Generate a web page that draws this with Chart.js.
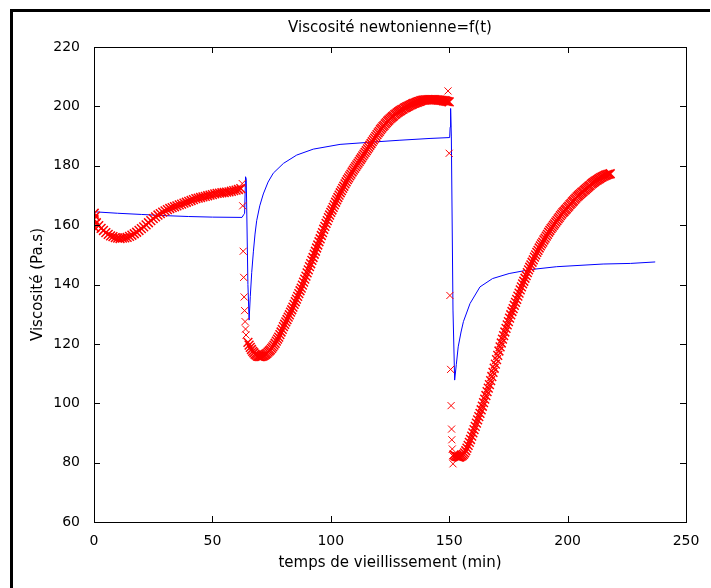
<!DOCTYPE html>
<html>
<head>
<meta charset="utf-8">
<script src="https://cdn.jsdelivr.net/npm/chart.js@4/dist/chart.umd.min.js"></script>
<style>
  html, body { margin: 0; padding: 0; background: #fff; }
  #wrap { width: 711px; height: 588px; position: relative; }
</style>
</head>
<body>
<div id="wrap"><canvas id="graficaVisco"></canvas></div>
<script>
// mesures (croix rouges)
const mesure1Debut = 0, mesure1Pas = 1;
const mesure1 = [162.0, 160.8, 159.8, 158.9, 158.2, 157.5, 156.9, 156.4, 156.1, 155.8,
    155.6, 155.5, 155.6, 155.7, 155.9, 156.2, 156.6, 157.1, 157.6, 158.2,
    158.8, 159.4, 160.1, 160.8, 161.5, 162.2, 162.8, 163.4, 163.9, 164.4,
    164.8, 165.2, 165.6, 165.9, 166.2, 166.5, 166.8, 167.1, 167.4, 167.7,
    168.0, 168.3, 168.6, 168.9, 169.1, 169.3, 169.5, 169.7, 169.9, 170.1,
    170.3, 170.5, 170.7, 170.8, 170.9, 171.0, 171.1, 171.2, 171.4, 171.6,
    171.8, 172.0, 172.3];
const departT = [0.1, 0.3, 0.6];
const departV = [164.0, 159.2, 163.0];
const chute1T = [62.6, 62.8, 63.0, 63.2, 63.4, 63.6, 63.8, 64.0, 64.2];
const chute1V = [174.0, 166.5, 151.2, 142.4, 135.8, 131.2, 127.5, 125.0, 123.0];
const mesure2Debut = 65, mesure2Pas = 0.5;
const mesure2 = [120.5, 119.6, 118.8, 118.1, 117.5, 117.0, 116.5, 116.2, 115.9, 115.8,
    115.7, 115.7, 115.8, 116.0, 116.2, 116.5, 116.8, 117.2, 117.6, 118.0,
    118.5, 119.0, 119.6, 120.2, 120.9, 121.6, 122.3, 123.1, 124.0, 124.9,
    125.8, 126.6, 127.4, 128.2, 129.0, 129.8, 130.7, 131.5, 132.4, 133.3,
    134.2, 135.1, 136.0, 136.9, 137.9, 138.8, 139.8, 140.8, 141.8, 142.8,
    143.9, 144.9, 146.0, 147.0, 148.1, 149.1, 150.2, 151.2, 152.3, 153.3,
    154.4, 155.4, 156.5, 157.5, 158.6, 159.6, 160.6, 161.5, 162.5, 163.4,
    164.3, 165.1, 166.0, 166.8, 167.7, 168.5, 169.3, 170.1, 170.9, 171.6,
    172.4, 173.1, 173.9, 174.6, 175.3, 175.9, 176.6, 177.2, 177.9, 178.5,
    179.1, 179.7, 180.3, 180.9, 181.5, 182.1, 182.7, 183.3, 183.9, 184.5,
    185.1, 185.7, 186.3, 186.9, 187.5, 188.1, 188.7, 189.3, 189.9, 190.5,
    191.1, 191.6, 192.2, 192.7, 193.2, 193.6, 194.1, 194.5, 195.0, 195.4,
    195.8, 196.1, 196.5, 196.8, 197.2, 197.5, 197.8, 198.1, 198.4, 198.6,
    198.9, 199.1, 199.4, 199.6, 199.8, 200.0, 200.2, 200.4, 200.6, 200.8,
    201.0, 201.1, 201.3, 201.4, 201.6, 201.7, 201.9, 202.0, 202.1, 202.1,
    202.2, 202.2, 202.3, 202.3, 202.3, 202.3, 202.3, 202.3, 202.3, 202.2,
    202.2, 202.1, 202.1, 202.0, 202.0, 201.9, 201.9, 201.8, 201.7, 201.6,
    201.5];
const chute2T = [149.5, 150.0, 150.3, 150.6, 150.8, 151.0, 151.1, 151.3, 151.5, 151.6];
const chute2V = [205.2, 184.2, 136.3, 111.4, 99.2, 91.3, 87.7, 84.6, 82.3, 79.6];
const mesure3Debut = 152, mesure3Pas = 0.5;
const mesure3 = [82.6, 82.3, 82.1, 82.0, 81.9, 81.9, 82.1, 82.4, 82.8, 83.3,
    84.0, 84.9, 85.8, 86.8, 87.8, 88.9, 90.0, 91.1, 92.2, 93.3,
    94.4, 95.5, 96.6, 97.8, 99.0, 100.2, 101.4, 102.6, 103.9, 105.1,
    106.3, 107.6, 109.0, 110.4, 111.8, 113.2, 114.7, 116.1, 117.6, 119.0,
    120.3, 121.6, 122.8, 124.0, 125.2, 126.4, 127.5, 128.7, 129.8, 130.9,
    131.9, 133.0, 134.0, 135.0, 136.1, 137.1, 138.2, 139.2, 140.2, 141.1,
    142.1, 143.0, 144.0, 144.9, 145.8, 146.6, 147.5, 148.3, 149.2, 150.0,
    150.8, 151.5, 152.3, 153.0, 153.7, 154.3, 155.0, 155.6, 156.3, 156.9,
    157.6, 158.2, 158.8, 159.3, 159.9, 160.4, 161.0, 161.5, 162.1, 162.6,
    163.2, 163.7, 164.2, 164.6, 165.1, 165.5, 166.0, 166.4, 166.9, 167.3,
    167.8, 168.2, 168.7, 169.1, 169.5, 169.9, 170.3, 170.6, 171.0, 171.3,
    171.7, 172.0, 172.4, 172.7, 173.1, 173.4, 173.8, 174.1, 174.4, 174.7,
    175.0, 175.2, 175.5, 175.7, 176.0, 176.2, 176.4, 176.6, 176.8, 176.9,
    177.1, 177.2, 177.3];

// modele (ligne bleue)
const modeleT = [0, 10, 20, 30, 40, 50, 62.5, 63.2, 63.6, 64.0, 64.3, 65.0, 65.5,
    66.0, 66.6, 67.3, 68.0, 68.7, 70.0, 71.5, 73.5, 75.7, 80.0, 85.6, 92.6,
    103.9, 118.0, 129.2, 141.9, 150.2, 150.4, 150.6, 150.9, 151.6, 152.3,
    153.0, 153.8, 155.0, 156.0, 158.8, 163.0, 168.3, 175.3, 184.1, 195.4,
    215.0, 226.5, 237.0];
const modeleV = [164.5, 164.0, 163.6, 163.2, 162.9, 162.7, 162.6, 163.5, 164.0, 176.3, 175.5, 140.0, 128.0,
    136.0, 144.0, 151.0, 157.0, 161.5, 166.5, 170.5, 174.5, 177.5, 180.8, 183.6, 185.6,
    187.2, 188.0, 188.6, 189.2, 189.5, 193.0, 199.3, 190.0, 131.4, 107.8,
    113.0, 119.0, 124.0, 127.5, 133.6, 139.2, 142.0, 143.7, 145.0, 146.0,
    146.9, 147.1, 147.6];

const xTicks = [0, 50, 100, 150, 200, 250];
const yTicks = [60, 80, 100, 120, 140, 160, 180, 200, 220];
const titre = 'Viscosité newtonienne=f(t)';

function serie(debut, pas, valeurs) {
    return valeurs.map(function (v, i) { return { x: debut + i * pas, y: v }; });
}
function paires(ts, vs) {
    return ts.map(function (t, i) { return { x: t, y: vs[i] }; });
}

const bandeMesure = serie(mesure1Debut, mesure1Pas, mesure1)
    .concat(paires(departT, departV))
    .concat(serie(mesure2Debut, mesure2Pas, mesure2))
    .concat(serie(mesure3Debut, mesure3Pas, mesure3));
const pointsIsoles = paires(chute1T, chute1V).concat(paires(chute2T, chute2V));

// cadre de la figure, titre et boite des axes avec graduations vers l'interieur
const cadreMatlab = {
    id: 'cadreMatlab',
    beforeDraw: function (chart) {
        const ctx = chart.ctx;
        ctx.save();
        ctx.fillStyle = '#000';
        ctx.fillRect(10, 9, 700, 3);
        ctx.fillRect(10, 9, 3, 579);
        ctx.restore();
    },
    afterDraw: function (chart) {
        const ctx = chart.ctx;
        const a = chart.chartArea;
        const sx = chart.scales.x, sy = chart.scales.y;
        ctx.save();
        ctx.fillStyle = '#000';
        ctx.font = "15px 'DejaVu Sans'";
        ctx.textAlign = 'center';
        ctx.textBaseline = 'middle';
        ctx.fillText(titre, (a.left + a.right) / 2, 28);

        ctx.strokeStyle = '#000';
        ctx.lineWidth = 1;
        ctx.beginPath();
        xTicks.forEach(function (t) {
            const px = Math.round(sx.getPixelForValue(t)) + 0.5;
            ctx.moveTo(px, a.bottom); ctx.lineTo(px, a.bottom - 6);
            ctx.moveTo(px, a.top); ctx.lineTo(px, a.top + 6);
        });
        yTicks.forEach(function (v) {
            const py = Math.round(sy.getPixelForValue(v)) + 0.5;
            ctx.moveTo(a.left, py); ctx.lineTo(a.left + 6, py);
            ctx.moveTo(a.right, py); ctx.lineTo(a.right - 6, py);
        });
        ctx.stroke();
        ctx.strokeRect(Math.round(a.left) + 0.5, Math.round(a.top) + 0.5,
            Math.round(a.right - a.left), Math.round(a.bottom - a.top));
        ctx.restore();
    }
};

const policeTicks = { family: "'DejaVu Sans', sans-serif", size: 14 };
const policeTitres = { family: "'DejaVu Sans', sans-serif", size: 15 };

new Chart(document.getElementById('graficaVisco').getContext('2d'), {
    type: 'scatter',
    data: {
        datasets: [{
            label: 'mesure',
            data: bandeMesure,
            pointStyle: 'crossRot',
            pointRadius: 6.2,
            borderColor: '#ff0000',
            borderWidth: 1.5,
            showLine: false
        }, {
            label: 'mesure (sauts)',
            data: pointsIsoles,
            pointStyle: 'crossRot',
            pointRadius: 5,
            borderColor: '#ff0000',
            borderWidth: 1,
            showLine: false
        }, {
            label: 'modele',
            data: paires(modeleT, modeleV),
            showLine: true,
            borderColor: '#0000ff',
            borderWidth: 1,
            pointRadius: 0,
            tension: 0
        }]
    },
    options: {
        responsive: true,
        maintainAspectRatio: false,
        animation: false,
        layout: { padding: { top: 47, right: 25, bottom: 0, left: 0 } },
        plugins: {
            legend: { display: false },
            tooltip: { enabled: false },
            title: { display: false }
        },
        scales: {
            x: {
                type: 'linear',
                min: 0, max: 250,
                afterBuildTicks: function (s) { s.ticks = xTicks.map(function (v) { return { value: v }; }); },
                afterFit: function (s) { s.height = 66; },
                grid: { display: false },
                border: { display: false },
                ticks: { color: '#000', font: policeTicks, padding: 3, maxRotation: 0 },
                title: {
                    display: true,
                    text: 'temps de vieillissement (min)',
                    color: '#000',
                    font: policeTitres,
                    padding: { top: 2, bottom: 16 }
                }
            },
            y: {
                type: 'linear',
                min: 60, max: 220,
                afterBuildTicks: function (s) { s.ticks = yTicks.map(function (v) { return { value: v }; }); },
                afterFit: function (s) { s.width = 94; },
                grid: { display: false },
                border: { display: false },
                ticks: { color: '#000', font: policeTicks, padding: 6 },
                title: {
                    display: true,
                    text: 'Viscosité (Pa.s)',
                    color: '#000',
                    font: policeTitres,
                    padding: { top: 29, bottom: 0 }
                }
            }
        }
    },
    plugins: [cadreMatlab]
});
</script>
</body>
</html>
